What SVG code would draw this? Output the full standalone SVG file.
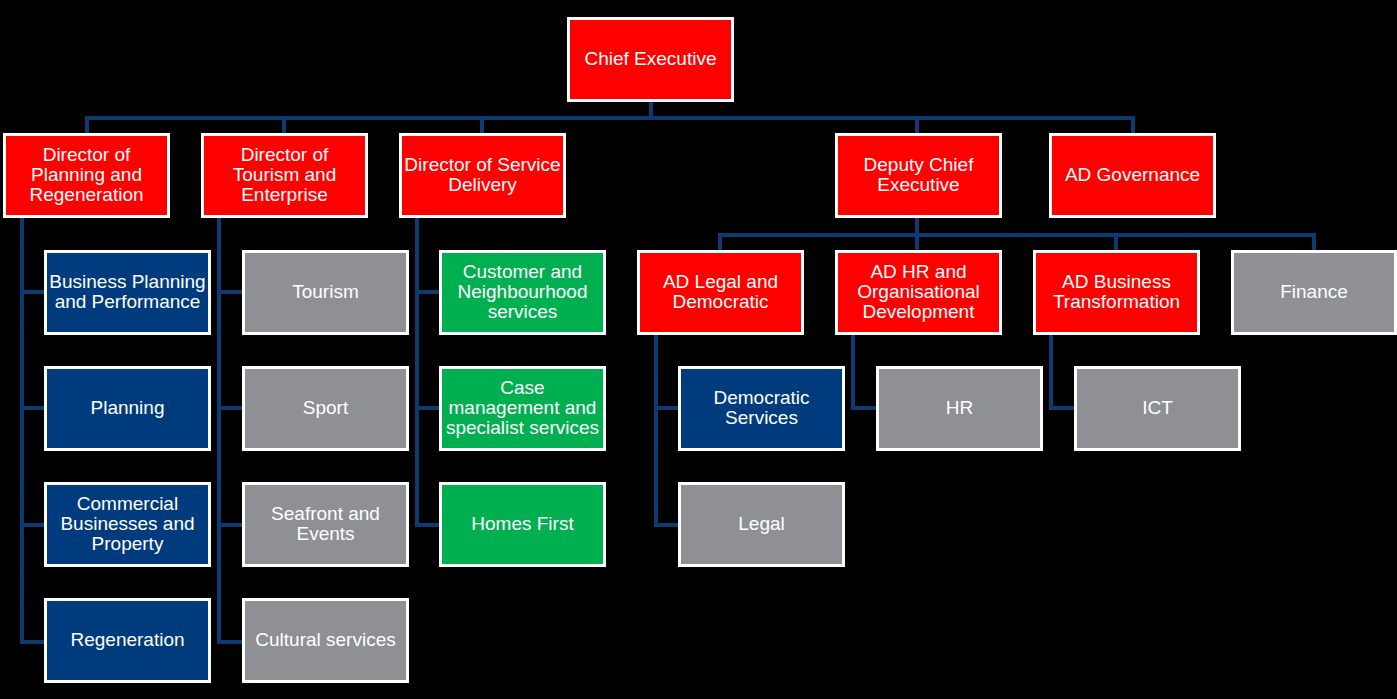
<svg xmlns="http://www.w3.org/2000/svg" width="1397" height="699" viewBox="0 0 1397 699">
<style>
.bx{stroke:#FFFFFF;stroke-width:3}
.red{fill:#FF0000}
.navy{fill:#003B7E}
.gray{fill:#8E9094}
.green{fill:#00B050}
text{font-family:"Liberation Sans",Arial,sans-serif;font-size:19px;fill:#FFFFFF;text-anchor:middle}
.cn{fill:none;stroke:#0E3A72;stroke-width:4;stroke-linejoin:miter}
</style>
<rect x="0" y="0" width="1397" height="699" fill="#000000"/>
<g id="connectors">
<path class="cn" d="M651,102 V118 M87,133 V118 H1133 V133 M284,118 V133 M482,118 V133 M917,118 V133"/>
<path class="cn" d="M22,218 V642 H44 M22,292 H44 M22,408 H44 M22,525 H44"/>
<path class="cn" d="M219,218 V642 H242 M219,292 H242 M219,408 H242 M219,525 H242"/>
<path class="cn" d="M417,218 V525 H439 M417,292 H439 M417,408 H439"/>
<path class="cn" d="M917,218 V250 M720,250 V235 H1314 V250 M1116,235 V250"/>
<path class="cn" d="M656,334 V525 H678 M656,408 H678"/>
<path class="cn" d="M853,334 V408 H876"/>
<path class="cn" d="M1051,334 V408 H1074"/>
</g>
<g id="chief-executive"><rect class="bx red" x="568.5" y="18.5" width="164" height="82"/><text x="650.5" y="65">Chief Executive</text></g>
<g id="dir-planning"><rect class="bx red" x="4.5" y="134.5" width="164" height="82"/><text x="86.5" y="161">Director of</text><text x="86.5" y="181">Planning and</text><text x="86.5" y="201">Regeneration</text></g>
<g id="dir-tourism"><rect class="bx red" x="202.5" y="134.5" width="164" height="82"/><text x="284.5" y="161">Director of</text><text x="284.5" y="181">Tourism and</text><text x="284.5" y="201">Enterprise</text></g>
<g id="dir-service"><rect class="bx red" x="400.5" y="134.5" width="164" height="82"/><text x="482.5" y="171">Director of Service</text><text x="482.5" y="191">Delivery</text></g>
<g id="deputy-ce"><rect class="bx red" x="836.5" y="134.5" width="164" height="82"/><text x="918.5" y="171">Deputy Chief</text><text x="918.5" y="191">Executive</text></g>
<g id="ad-governance"><rect class="bx red" x="1050.5" y="134.5" width="164" height="82"/><text x="1132.5" y="181">AD Governance</text></g>
<g id="business-planning"><rect class="bx navy" x="45.5" y="251.5" width="164" height="82"/><text x="127.5" y="288">Business Planning</text><text x="127.5" y="308">and Performance</text></g>
<g id="planning"><rect class="bx navy" x="45.5" y="367.5" width="164" height="82"/><text x="127.5" y="414">Planning</text></g>
<g id="commercial"><rect class="bx navy" x="45.5" y="483.5" width="164" height="82"/><text x="127.5" y="510">Commercial</text><text x="127.5" y="530">Businesses and</text><text x="127.5" y="550">Property</text></g>
<g id="regeneration"><rect class="bx navy" x="45.5" y="599.5" width="164" height="82"/><text x="127.5" y="646">Regeneration</text></g>
<g id="tourism"><rect class="bx gray" x="243.5" y="251.5" width="164" height="82"/><text x="325.5" y="298">Tourism</text></g>
<g id="sport"><rect class="bx gray" x="243.5" y="367.5" width="164" height="82"/><text x="325.5" y="414">Sport</text></g>
<g id="seafront"><rect class="bx gray" x="243.5" y="483.5" width="164" height="82"/><text x="325.5" y="520">Seafront and</text><text x="325.5" y="540">Events</text></g>
<g id="cultural"><rect class="bx gray" x="243.5" y="599.5" width="164" height="82"/><text x="325.5" y="646">Cultural services</text></g>
<g id="customer"><rect class="bx green" x="440.5" y="251.5" width="164" height="82"/><text x="522.5" y="278">Customer and</text><text x="522.5" y="298">Neighbourhood</text><text x="522.5" y="318">services</text></g>
<g id="case-management"><rect class="bx green" x="440.5" y="367.5" width="164" height="82"/><text x="522.5" y="394">Case</text><text x="522.5" y="414">management and</text><text x="522.5" y="434">specialist services</text></g>
<g id="homes-first"><rect class="bx green" x="440.5" y="483.5" width="164" height="82"/><text x="522.5" y="530">Homes First</text></g>
<g id="ad-legal"><rect class="bx red" x="638.5" y="251.5" width="164" height="82"/><text x="720.5" y="288">AD Legal and</text><text x="720.5" y="308">Democratic</text></g>
<g id="ad-hr"><rect class="bx red" x="836.5" y="251.5" width="164" height="82"/><text x="918.5" y="278">AD HR and</text><text x="918.5" y="298">Organisational</text><text x="918.5" y="318">Development</text></g>
<g id="ad-business"><rect class="bx red" x="1034.5" y="251.5" width="164" height="82"/><text x="1116.5" y="288">AD Business</text><text x="1116.5" y="308">Transformation</text></g>
<g id="finance"><rect class="bx gray" x="1232.5" y="251.5" width="163" height="82"/><text x="1314" y="298">Finance</text></g>
<g id="democratic-services"><rect class="bx navy" x="679.5" y="367.5" width="164" height="82"/><text x="761.5" y="404">Democratic</text><text x="761.5" y="424">Services</text></g>
<g id="legal"><rect class="bx gray" x="679.5" y="483.5" width="164" height="82"/><text x="761.5" y="530">Legal</text></g>
<g id="hr"><rect class="bx gray" x="877.5" y="367.5" width="164" height="82"/><text x="959.5" y="414">HR</text></g>
<g id="ict"><rect class="bx gray" x="1075.5" y="367.5" width="164" height="82"/><text x="1157.5" y="414">ICT</text></g>
</svg>
